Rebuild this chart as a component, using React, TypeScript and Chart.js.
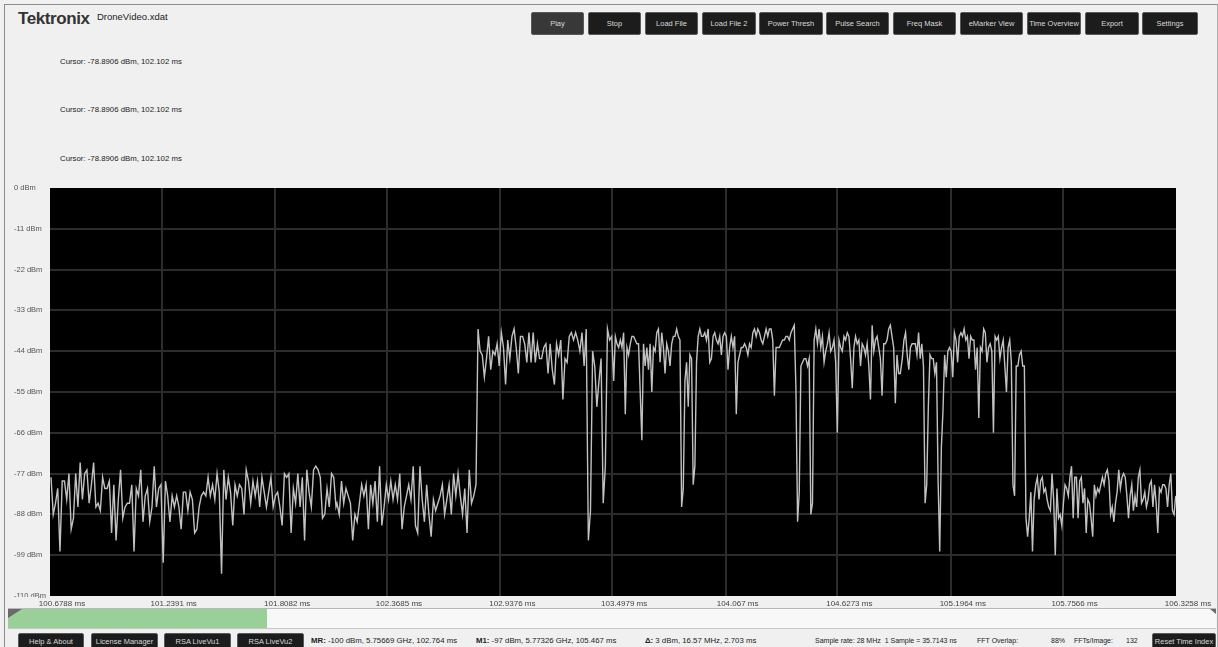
import React, { useEffect, useRef } from "react";
import { Chart, registerables } from "chart.js";

Chart.register(...registerables);

// ---------- chart data ----------
const xTickValues = [100.6788, 101.2391, 101.8082, 102.3685, 102.9376, 103.4979, 104.067, 104.6273, 105.1964, 105.7566, 106.3258];
const xTickLabels = ["100.6788 ms", "101.2391 ms", "101.8082 ms", "102.3685 ms", "102.9376 ms", "103.4979 ms", "104.067 ms", "104.6273 ms", "105.1964 ms", "105.7566 ms", "106.3258 ms"];
const yTickValues = [0, -11, -22, -33, -44, -55, -66, -77, -88, -99, -110];
const yTickLabels = ["0 dBm", "-11 dBm", "-22 dBm", "-33 dBm", "-44 dBm", "-55 dBm", "-66 dBm", "-77 dBm", "-88 dBm", "-99 dBm", "-110 dBm"];

// time span (ms) of each trace segment
const segmentStartMs = [100.6838, 102.1181, 102.8253, 103.5058, 104.9532];
const segmentEndMs = [102.1131, 102.8152, 103.4958, 104.9431, 106.3243];

// trace values (dBm)
const noiseLeft = [
  -78, -88, -85, -81, -98, -79, -79, -84, -77, -92,
  -89, -77, -86, -74, -84, -77, -76, -85, -80, -74,
  -86, -85, -87, -78, -81, -81, -79, -93, -80, -95,
  -84, -76, -89, -86, -85, -85, -80, -98, -81, -83,
  -76, -90, -83, -81, -90, -86, -75, -86, -81, -80,
  -101, -79, -83, -90, -83, -86, -83, -86, -92, -82,
  -82, -87, -82, -84, -93, -92, -86, -83, -82, -83,
  -78, -83, -80, -84, -77, -82, -104, -76, -84, -78,
  -82, -91, -80, -83, -80, -81, -88, -76, -79, -85,
  -79, -83, -79, -86, -78, -82, -86, -82, -78, -86,
  -83, -82, -86, -91, -77, -78, -77, -93, -81, -85,
  -77, -86, -78, -95, -76, -82, -86, -76, -75, -76,
  -78, -89, -88, -81, -86, -77, -78, -86,
];
const noiseRise = [
  -85, -88, -79, -85, -81, -83, -85, -95, -88, -90,
  -85, -80, -83, -80, -92, -80, -85, -79, -90, -75,
  -91, -86, -80, -84, -79, -84, -80, -84, -77, -92,
  -86, -83, -80, -84, -75, -91, -93, -75, -84, -90,
  -80, -88, -94, -84, -87, -85, -83, -80, -88, -84,
  -80, -88, -77, -83, -77, -83, -88, -81, -93, -76,
  -85, -83, -80,
];
const bandA = [
  -38, -44, -45, -51, -46, -40, -49, -44, -45, -42,
  -48, -39, -43, -53, -41, -46, -40, -38, -43, -50,
  -40, -40, -42, -47, -39, -47, -39, -47, -42, -46,
  -46, -43, -42, -50, -42, -49, -53, -42, -45, -41,
  -57, -46, -47, -40, -39,
  -41, -39, -41, -44, -39, -48, -38, -95, -87, -44,
  -48, -59, -52, -46, -85, -75, -38, -41, -40,
];
const bandB = [
  -52, -40, -42, -43, -41, -43, -39, -61, -43, -45,
  -42, -40, -40, -41, -42, -42, -55, -68, -42, -48,
  -43, -49, -42, -55, -43, -44, -39, -38, -47, -39,
  -43, -50, -42, -44, -48, -42, -40, -40, -38, -40,
  -41, -86, -81, -52, -47, -59, -45, -46, -80, -75,
  -47, -40, -38, -40, -40, -39, -41, -38, -47, -46,
  -40, -39, -41, -42, -40, -45, -40, -39, -40, -49,
  -43, -40, -43, -40, -61, -47, -45, -43, -43, -42,
  -43, -45, -42, -43, -39, -38, -40, -38, -39, -41,
  -42, -40, -38, -40, -38, -38, -41, -56, -43, -43,
  -43, -42, -41, -41, -40, -40, -41, -39, -38, -37,
  -54, -90, -82, -48, -47, -46, -46, -48, -46, -88,
  -85, -41, -38, -42, -38, -43, -40, -47, -44, -42,
  -39, -44, -43, -41, -47, -66, -41, -43, -44, -40,
  -41, -39, -40, -46, -54, -43, -40, -42, -41, -48,
  -42, -43, -45, -42, -48, -57, -37, -44, -41, -40,
  -43, -46, -56, -42, -42, -41, -38, -37, -40, -43,
  -58, -45, -50, -50,
];
const bandTail = [
  -46, -41, -39, -45, -49, -43, -42, -42, -42, -45,
  -39, -46, -42, -48, -85, -80, -59, -45, -46, -46,
  -50, -47, -79, -98, -70, -60, -45, -51, -44, -43,
  -44, -51, -39, -41, -47, -40, -39, -40, -38, -41,
  -40, -46, -40, -41, -41, -49, -43, -62, -43, -44,
  -38, -39, -47, -43, -42, -44, -66, -40, -41, -40,
  -46, -43, -41, -48, -55, -43, -41, -47, -80, -83,
  -48, -48, -45, -44, -48, -48, -89, -94, -89, -82,
  -98, -84, -80, -78, -84, -79, -78, -82, -81, -84,
  -86, -87, -77, -84, -99, -81, -89, -88, -91, -85,
  -80, -81, -83, -78, -75, -89, -78, -78, -89, -79,
  -78, -85, -81, -93, -84, -85, -89, -94, -80, -83,
  -81, -82, -80, -78, -80, -77, -76, -79, -88, -86,
  -90, -85, -82, -76, -81, -78, -77, -78, -83, -89,
  -83, -80, -87, -83, -86, -78, -76, -85, -84, -82,
  -86, -84, -80, -79, -86, -80, -85, -93, -81, -82,
  -80, -80, -81, -86, -80, -77, -87, -88, -83,
];
const segments = [noiseLeft, noiseRise, bandA, bandB, bandTail];

function buildTrace() {
  const pts: { x: number; y: number }[] = [];
  segments.forEach((vals, s) => {
    const a = segmentStartMs[s];
    const b = segmentEndMs[s];
    const step = (b - a) / (vals.length - 1);
    vals.forEach((v, i) => pts.push({ x: a + i * step, y: v }));
  });
  return pts;
}

// ---------- UI layout ----------
const UI_FONT = "'Liberation Sans', Arial, sans-serif";
const topButtons: [string, number, number][] = [
  ["Play", 531, 53], ["Stop", 588, 53], ["Load File", 645, 53], ["Load File 2", 702, 54],
  ["Power Thresh", 759, 64], ["Pulse Search", 826, 63], ["Freq Mask", 893, 63],
  ["eMarker View", 960, 63], ["Time Overview", 1027, 54], ["Export", 1085, 54], ["Settings", 1142, 56],
];
const bottomButtons: [string, number, number][] = [
  ["Help & About", 18, 66], ["License Manager", 91, 67], ["RSA LiveVu1", 164, 67], ["RSA LiveVu2", 237, 67],
  ["Reset Time Index", 1152, 64],
];
const cursorText = "Cursor: -78.8906 dBm, 102.102 ms";

const plotPlugin = {
  id: "plotBg",
  beforeDraw(chart: any) {
    const { ctx, chartArea: a } = chart;
    ctx.save();
    ctx.fillStyle = "#000";
    ctx.fillRect(a.left, a.top, a.right - a.left, a.bottom - a.top);
    ctx.restore();
  },
  afterDraw(chart: any) {
    const { ctx, chartArea: a } = chart;
    ctx.save();
    ctx.fillStyle = "#f0f0f0";
    ctx.fillRect(0, a.bottom + 1, a.left - 12, 5);
    ctx.restore();
  },
};

function TraceChart() {
  const ref = useRef<HTMLCanvasElement>(null);
  useEffect(() => {
    if (!ref.current) return;
    const gridColor = (ctx: any) => {
      const i = ctx.index;
      const n = ctx.scale.ticks.length;
      return i === 0 || i === n - 1 ? "rgba(0,0,0,0)" : "#2c2c2c";
    };
    const chart = new Chart(ref.current, {
      type: "line",
      data: {
        datasets: [
          {
            data: buildTrace(),
            borderColor: "#c2c2c2",
            borderWidth: 1.4,
            pointRadius: 0,
            tension: 0,
            fill: false,
          },
        ],
      },
      options: {
        animation: false,
        responsive: false,
        devicePixelRatio: 1,
        layout: { padding: { top: 6, right: 42, left: 0, bottom: 0 } },
        plugins: { legend: { display: false }, tooltip: { enabled: false } },
        scales: {
          x: {
            type: "linear",
            min: 100.6788,
            max: 106.3258,
            afterBuildTicks: (ax: any) => {
              ax.ticks = xTickValues.map((value) => ({ value }));
            },
            afterFit: (ax: any) => {
              ax.height = 16;
              ax.paddingLeft = 0;
              ax.paddingRight = 0;
            },
            grid: { color: gridColor, lineWidth: 2, drawTicks: false },
            border: { display: false },
            ticks: {
              autoSkip: false,
              maxRotation: 0,
              padding: 3,
              labelOffset: 12,
              color: "#444",
              font: { family: UI_FONT, size: 8 },
              callback: (_v: any, i: number) => xTickLabels[i],
            },
          },
          y: {
            type: "linear",
            min: -110,
            max: 0,
            afterBuildTicks: (ax: any) => {
              ax.ticks = yTickValues.map((value) => ({ value }));
            },
            afterFit: (ax: any) => {
              ax.width = 36;
              ax.paddingTop = 0;
              ax.paddingBottom = 0;
            },
            grid: { color: gridColor, lineWidth: 2, drawTicks: false },
            border: { display: false },
            ticks: {
              crossAlign: "far",
              padding: 0,
              color: "#555",
              font: { family: UI_FONT, size: 7.5 },
              callback: (v: any) => yTickLabels[yTickValues.indexOf(Number(v))],
            },
          },
        },
      } as any,
      plugins: [plotPlugin],
    });
    return () => chart.destroy();
  }, []);
  return <canvas ref={ref} width={1204} height={430} style={{ display: "block", width: 1204, height: 430 }} />;
}

function Btn({ label, left, top, width, height, light }: any) {
  return (
    <div
      style={{
        position: "absolute",
        left,
        top,
        width,
        height,
        boxSizing: "border-box",
        background: light ? "#383838" : "#1c1c1c",
        border: "1px solid #5a5a5a",
        borderRadius: 2,
        color: "#d8d8d8",
        fontSize: 7.5,
        lineHeight: `${height - 2}px`,
        textAlign: "center",
        whiteSpace: "nowrap",
        overflow: "hidden",
      }}
    >
      {label}
    </div>
  );
}

function Txt({ left, top, children, size = 7.8, bold = false }: any) {
  return (
    <div style={{ position: "absolute", left, top, fontSize: size, fontWeight: bold ? 700 : 400, color: "#222", whiteSpace: "nowrap", lineHeight: 1 }}>
      {children}
    </div>
  );
}

export default function App() {
  return (
    <div
      style={{
        position: "fixed",
        left: 0,
        top: 0,
        width: 1218,
        height: 647,
        background: "#f0f0f0",
        overflow: "hidden",
        fontFamily: UI_FONT,
      }}
    >
      {/* window frame */}
      <div style={{ position: "absolute", left: 4, top: 4, width: 1212, height: 700, borderLeft: "1px solid #8c8c8c", borderTop: "1px solid #8c8c8c", borderRight: "1px solid #b0b0b0" }} />

      {/* header */}
      <div style={{ position: "absolute", left: 18, top: 10, fontSize: 17, fontWeight: 700, color: "#333", letterSpacing: -0.4, lineHeight: 1 }}>
        Tektronix
      </div>
      <Txt left={97} top={12} size={9.5}>DroneVideo.xdat</Txt>
      {topButtons.map(([label, left, width], i) => (
        <Btn key={label} label={label} left={left} top={12} width={width} height={23} light={i === 0} />
      ))}

      <Txt left={60} top={58}>{cursorText}</Txt>
      <Txt left={60} top={106}>{cursorText}</Txt>
      <Txt left={60} top={155}>{cursorText}</Txt>

      {/* chart */}
      <div style={{ position: "absolute", left: 14, top: 182 }}>
        <TraceChart />
      </div>

      {/* slider */}
      <div style={{ position: "absolute", left: 8, top: 608, width: 1208, height: 19, background: "#f8f8f8", borderTop: "1px solid #b8b8b8", borderBottom: "1px solid #c8c8c8" }} />
      <div style={{ position: "absolute", left: 8, top: 609, width: 259, height: 19, background: "#98d098" }} />
      <div style={{ position: "absolute", left: 8, top: 609, width: 0, height: 0, borderTop: "9px solid #6a6a6a", borderRight: "14px solid transparent" }} />
      <div style={{ position: "absolute", left: 1210, top: 609, width: 0, height: 0, borderTop: "5px solid #6a6a6a", borderLeft: "6px solid transparent" }} />

      {/* bottom bar */}
      {bottomButtons.map(([label, left, width]) => (
        <Btn key={label} label={label} left={left} top={633} width={width} height={17} />
      ))}
      <Txt left={311} top={637}><b>MR:</b> -100 dBm, 5.75669 GHz, 102.764 ms</Txt>
      <Txt left={476} top={637}><b>M1:</b> -97 dBm, 5.77326 GHz, 105.467 ms</Txt>
      <Txt left={645} top={637}><b>Δ:</b> 3 dBm, 16.57 MHz, 2.703 ms</Txt>
      <Txt left={815} top={637} size={7}>Sample rate: 28 MHz&nbsp;&nbsp;1 Sample = 35.7143 ns</Txt>
      <Txt left={977} top={637} size={7}>FFT Overlap:</Txt>
      <Txt left={1051} top={637} size={7}>88%</Txt>
      <Txt left={1074} top={637} size={7}>FFTs/Image:</Txt>
      <Txt left={1126} top={637} size={7}>132</Txt>
    </div>
  );
}
